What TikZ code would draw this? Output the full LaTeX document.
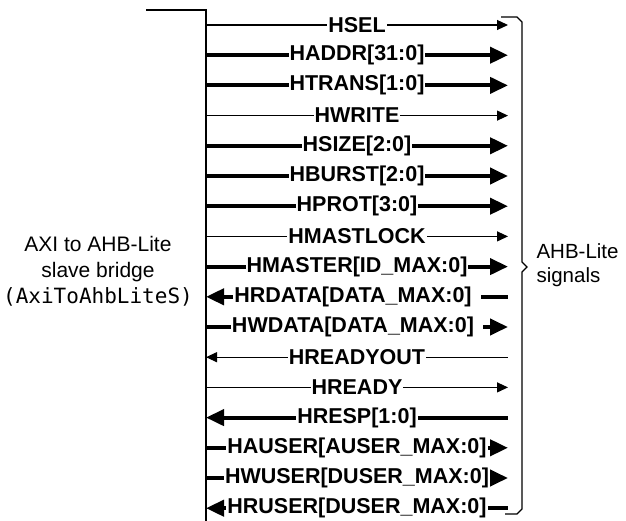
\documentclass[tikz,border=0pt]{standalone}
\usepackage{fontspec}
\setmainfont{Liberation Sans}
\newfontfamily\codefont{DejaVu Sans Mono}
\usetikzlibrary{arrows.meta}

\tikzset{
	thinout/.style={line width=1.2pt, -{Triangle[length=11pt,width=10pt]}},
	thinin/.style={line width=1.2pt, {Triangle[length=11pt,width=10pt]}-},
	wideout/.style={line width=4pt, -{Triangle[length=18pt,width=16pt]}},
	widein/.style={line width=4pt, {Triangle[length=18pt,width=16pt]}-},
	lbl/.style={fill=white, inner xsep=1pt, inner ysep=0pt, font=\fontsize{21.5}{24}\selectfont\bfseries},
}

\begin{document}
\begin{tikzpicture}[x=1pt, y=-1pt]
	\useasboundingbox (0,0) rectangle (626,521);
	% bridge side
	\draw[line width=1.5pt] (146,10) -- (206,10) -- (206,521);
	\node[align=center, font=\fontsize{21}{25.8}\selectfont] (bridge) at (98,271)
		{AXI to AHB-Lite\\slave bridge\\{\codefont(AxiToAhbLiteS)}};
	% signals
	\foreach \i/\name/\kind in {
		1/HSEL/thinout,
		2/HADDR[31:0]/wideout,
		3/HTRANS[1:0]/wideout,
		4/HWRITE/thinout,
		5/HSIZE[2:0]/wideout,
		6/HBURST[2:0]/wideout,
		7/HPROT[3:0]/wideout,
		8/HMASTLOCK/thinout,
		9/HMASTER[ID\_MAX:0]/wideout,
		10/HRDATA[DATA\_MAX:0]\kern8pt/widein,
		11/HWDATA[DATA\_MAX:0]\kern8pt/wideout,
		12/HREADYOUT/thinin,
		13/HREADY/thinout,
		14/HRESP[1:0]/widein,
		15/HAUSER[AUSER\_MAX:0]/wideout,
		16/HWUSER[DUSER\_MAX:0]/wideout,
		17/HRUSER[DUSER\_MAX:0]/widein} {
		\pgfmathsetmacro{\y}{25+30.2*(\i-1)}
		\coordinate (b\i) at (206,\y);
		\coordinate (e\i) at (508,\y);
		\draw[\kind] (b\i) -- node[lbl] (s\i) {\name} (e\i);
	}
	% brace
	\draw[line width=1.2pt] (501,17) -- (517,17) -- (522,22) -- (522,262) -- (527,267)
		-- (522,272) -- (522,509) -- (517,514) -- (505,514);
	\node[anchor=west, align=left, font=\fontsize{20.5}{24}\selectfont] (ahb) at (533,265)
		{AHB-Lite\\signals};
\end{tikzpicture}
\end{document}
